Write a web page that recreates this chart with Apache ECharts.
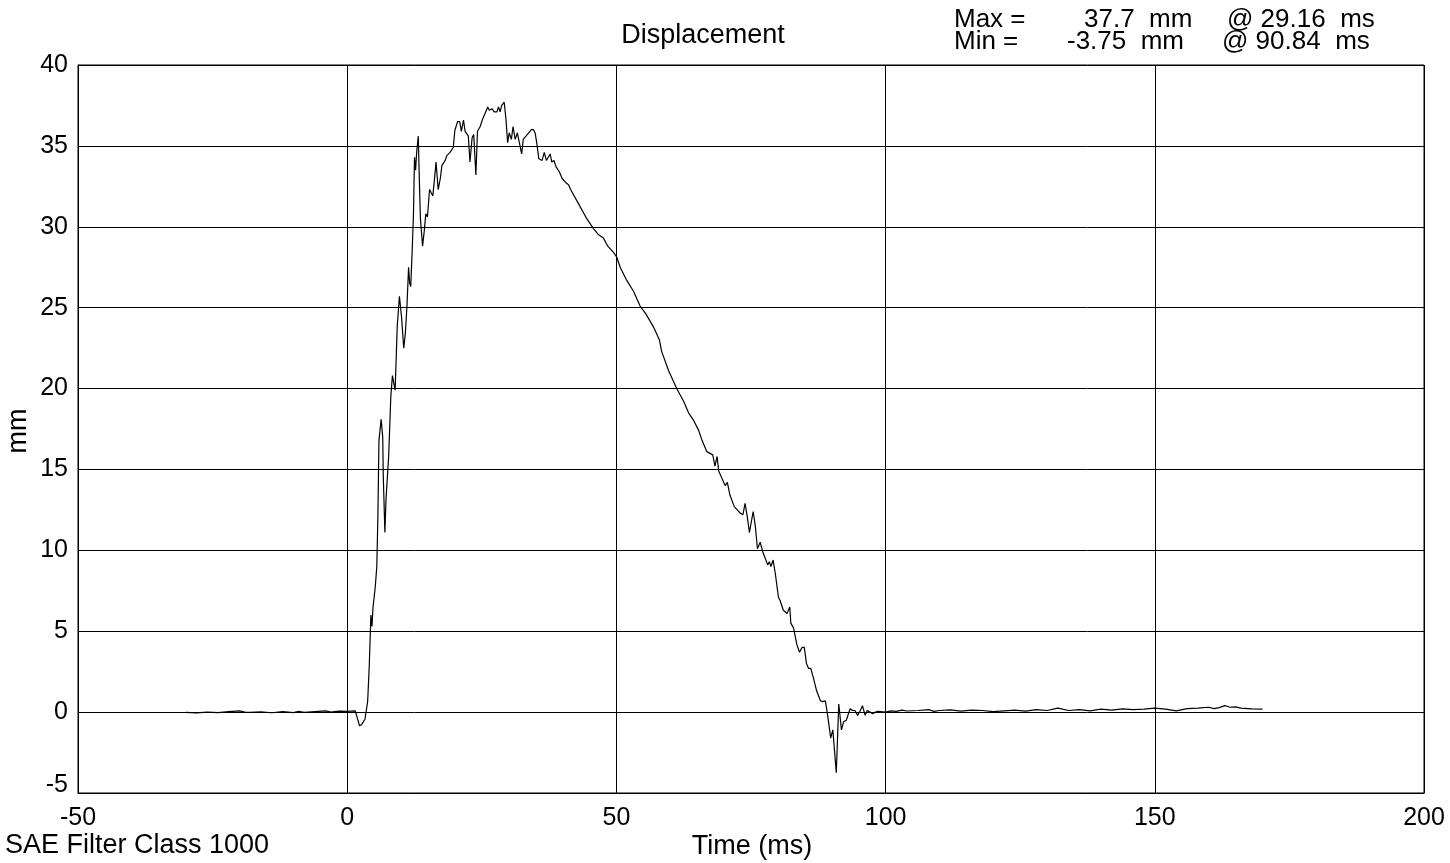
<!DOCTYPE html>
<html>
<head>
<meta charset="utf-8">
<script src="https://cdn.jsdelivr.net/npm/echarts@6/dist/echarts.min.js"></script>
<style>
html,body{margin:0;padding:0;background:#fff;}
#chart{width:1450px;height:863px;}
</style>
</head>
<body>
<div id="chart"></div>
<script>
// Time (ms)
var timeMs = [
 -30,-28,-26,-24,-22,-20,-19,-18,-16,-14,-12,-10,-9,-8,-6,-4,-3,-2,-1.3,0,1.5,1.8,
 2.3,2.7,3.3,3.8,4.1,4.4,4.6,4.8,5.2,5.5,5.7,5.9,6.1,6.3,6.6,6.7,7.0,7.2,7.7,8.1,8.4,8.7,8.9,
 9.1,9.3,9.7,10.1,10.5,10.8,11.1,11.4,11.6,11.8,12.1,12.3,12.5,12.7,12.9,13.2,13.4,13.6,14.0,
 14.3,14.6,14.9,15.3,15.5,15.9,16.2,16.5,16.9,17.3,17.6,18.2,18.5,19.1,19.7,20.0,20.5,20.9,
 21.2,21.6,21.9,22.5,22.8,23.2,23.5,23.9,24.2,24.7,25.2,25.6,26.1,26.4,26.9,27.3,27.8,28.1,
 28.4,28.7,29.16,29.5,29.8,30.1,30.5,30.8,31.2,31.6,32.1,32.4,32.7,33.2,33.7,34.2,34.6,34.9,
 35.2,35.6,36.2,36.6,37.0,37.3,37.7,38.0,38.4,38.8,39.4,39.9,40.1,40.7,41.1,41.5,43.0,44.5,
 45.7,46.7,47.6,48.4,49.5,50.1,50.7,51.9,53.2,54.4,55.5,56.9,58.0,58.4,59.7,61.2,62.5,63.4,
 64.4,65.3,65.9,66.8,67.9,68.3,68.7,69.0,70.2,70.6,71.1,71.9,73.0,73.5,73.9,74.3,74.7,75.4,
 75.8,76.2,76.7,77.2,78.1,78.4,78.7,79.1,79.5,80.1,80.4,81.0,81.7,82.2,82.4,82.9,83.5,84.0,
 84.5,84.9,85.3,85.7,86.1,86.6,87.2,87.9,88.3,88.8,89.1,89.4,89.8,90.2,90.5,90.84,91.3,91.8,
 92.2,92.7,93.4,93.9,94.3,94.8,95.3,95.7,96.2,96.6,97.1,97.6,98.1,98.6,
 100,101,102,103,104,106,108,109,110,112,114,116,118,120,122,124,126,128,130,132,134,136,138,
 140,142,144,146,148,150,152,154,156,158,160,161,162,163,164,165,166,168,170
];
// Displacement (mm)
var dispMm = [
 -0.02,-0.05,0.0,-0.03,0.03,0.08,0.0,-0.02,0.02,-0.04,0.03,-0.03,0.05,-0.02,0.03,0.08,0.0,0.04,0.06,0.05,0.08,0.02,
 -0.85,-0.76,-0.44,0.66,2.86,6.0,5.3,6.5,7.7,9.0,12.1,16.8,16.9,18.1,17.0,14.6,11.1,13.1,15.8,19.5,20.8,20.7,19.9,
 21.9,23.9,25.7,24.4,22.5,23.4,25.1,27.5,26.5,26.3,28.8,30.7,34.3,33.5,34.6,35.6,32.9,30.5,28.8,
 29.7,30.8,30.6,32.3,32.4,31.9,32.9,34.0,32.3,33.0,33.8,34.1,34.4,34.6,34.9,35.97,36.5,36.5,
 35.9,36.6,35.9,35.6,34.0,35.5,35.7,33.2,35.9,36.2,36.7,37.0,37.4,37.2,37.3,37.1,37.1,37.4,
 37.1,37.5,37.7,36.6,35.2,35.8,35.4,36.2,35.4,35.8,35.0,34.5,35.4,35.6,35.8,36.0,36.0,35.8,
 35.2,34.2,34.1,34.6,34.1,34.2,34.5,34.0,34.1,33.7,33.4,33.0,33.1,32.7,32.6,32.3,31.4,30.5,
 29.9,29.5,29.3,28.8,28.4,28.1,27.5,26.7,26.0,25.1,24.6,23.8,23.0,22.3,21.1,20.0,19.2,18.5,
 18.0,17.4,16.8,16.1,15.9,15.2,15.8,14.9,14.0,14.2,13.4,12.7,12.3,12.2,12.9,12.1,11.1,12.4,
 11.5,10.1,10.5,9.9,9.1,9.3,9.0,9.4,8.6,7.1,6.9,6.3,6.1,6.5,5.5,5.2,4.2,3.7,
 4.0,4.0,3.0,2.7,2.7,2.1,1.3,0.7,0.65,0.7,0.1,-0.6,-1.6,-1.1,-1.0,-3.75,0.5,-1.1,
 -0.6,-0.5,0.2,0.1,0.1,-0.2,0.1,0.4,-0.2,0.1,0.0,-0.1,0.0,0.05,
 0.0,0.08,0.05,0.12,0.07,0.1,0.15,0.05,0.1,0.14,0.06,0.12,0.1,0.03,0.08,0.12,0.06,0.15,0.1,0.25,0.1,0.15,0.08,
 0.18,0.12,0.2,0.15,0.18,0.25,0.18,0.08,0.22,0.25,0.3,0.22,0.28,0.4,0.3,0.32,0.25,0.2,0.18
];
var xTicks = [-50, 0, 50, 100, 150, 200];
var yTicks = [-5, 0, 5, 10, 15, 20, 25, 30, 35, 40];
var titleText = 'Displacement';
var statLines = [
  ['Max =', '37.7  mm', '@ 29.16  ms'],
  ['Min =', '-3.75  mm', '@ 90.84  ms']
];

var FONT = '"Liberation Sans", Arial, Helvetica, sans-serif';
var FS = 25;
var FT = 27;
var seriesData = timeMs.map(function (t, i) { return [t, dispMm[i]]; });

var chart = echarts.init(document.getElementById('chart'), null, {renderer: 'canvas'});
var graphics = [
  {type: 'text', x: 703, y: 36, style: {text: titleText, font: FT + 'px ' + FONT, fill: '#000', align: 'center', verticalAlign: 'middle'}},
  {type: 'text', x: 5, y: 846, style: {text: 'SAE Filter Class 1000', font: FT + 'px ' + FONT, fill: '#000', align: 'left', verticalAlign: 'middle'}},
  {type: 'text', x: 752, y: 847, style: {text: 'Time (ms)', font: FT + 'px ' + FONT, fill: '#000', align: 'center', verticalAlign: 'middle'}},
  {type: 'text', x: 19, y: 431, rotation: Math.PI / 2, style: {text: 'mm', font: FT + 'px ' + FONT, fill: '#000', align: 'center', verticalAlign: 'middle'}}
];
var rowX = [[954, 1084, 1227], [954, 1067, 1222]];
statLines.forEach(function (row, r) {
  row.forEach(function (txt, c) {
    graphics.push({type: 'text', x: rowX[r][c], y: 20 + r * 22, style: {text: txt, font: '26px ' + FONT, fill: '#000', align: 'left', verticalAlign: 'middle'}});
  });
});

chart.setOption({
  animation: false,
  backgroundColor: '#fff',
  grid: {left: 78, right: 26, top: 65, bottom: 70, show: true, borderColor: '#000', borderWidth: 1, backgroundColor: 'transparent'},
  xAxis: {
    type: 'value', min: xTicks[0], max: xTicks[xTicks.length - 1], interval: 50,
    axisLine: {show: true, onZero: false, lineStyle: {color: '#000', width: 1}},
    axisTick: {show: false},
    axisLabel: {color: '#000', fontSize: FS, fontFamily: FONT, margin: 13, showMinLabel: true, showMaxLabel: true},
    splitLine: {show: true, lineStyle: {color: '#000', width: 1}}
  },
  yAxis: {
    type: 'value', min: yTicks[0], max: yTicks[yTicks.length - 1], interval: 5,
    axisLine: {show: true, onZero: false, lineStyle: {color: '#000', width: 1}},
    axisTick: {show: false},
    axisLabel: {
      color: '#000', fontSize: FS, fontFamily: FONT, margin: 10, showMinLabel: true, showMaxLabel: true,
      formatter: function (v) { return v === yTicks[0] ? '{low|' + v + '}' : String(v); },
      rich: {low: {color: '#000', fontSize: FS, fontFamily: FONT, padding: [0, 0, 16, 0]}}
    },
    splitLine: {show: true, lineStyle: {color: '#000', width: 1}}
  },
  graphic: graphics,
  series: [{
    type: 'line', data: seriesData, showSymbol: false, symbol: 'none',
    lineStyle: {color: '#000', width: 1.2}, z: 5
  }]
});
</script>
</body>
</html>
